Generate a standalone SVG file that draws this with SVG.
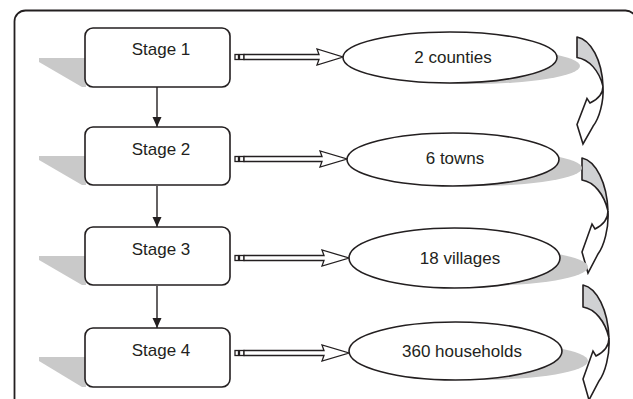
<svg xmlns="http://www.w3.org/2000/svg" width="633" height="399" viewBox="0 0 633 399">
<defs>
<style>
.frame{fill:#fff;stroke:#231f20;stroke-width:1.8}
.box{fill:#fff;stroke:#231f20;stroke-width:1.6}
.shadow{fill:#c9c9c9;stroke:none}
.lbl{font-family:"Liberation Sans",Arial,sans-serif;font-size:17px;fill:#231f20;text-anchor:middle}
.conn{stroke:#231f20;stroke-width:1.4;fill:none}
.hollow{fill:#fff;stroke:#231f20;stroke-width:1.3}
.back{fill:#d0d1d3;stroke:#231f20;stroke-width:1.6;stroke-linejoin:round}
.front{fill:#fff;stroke:#231f20;stroke-width:1.6;stroke-linejoin:miter}
</style>
<marker id="ah" markerWidth="10" markerHeight="10" refX="10" refY="5" orient="auto" markerUnits="userSpaceOnUse">
<path d="M0,0.5 L10,5 L0,9.5 Z" fill="#231f20"/>
</marker>
<g id="sq">
<rect x="0" y="-2.5" width="3.5" height="5" class="hollow"/>
<rect x="4.5" y="-2.5" width="4.5" height="5" class="hollow"/>
</g>
<g id="curl">
<path d="M0,0 C14,3 25,25 26,53 C22,36 12,24 0,22 Z" class="back"/>
<path d="M26,53 C26,61 21,67 13,71 L10,66 L0,94 L6,115 L16,96 C22,88 27,70 26,53 Z" class="front"/>
</g>
</defs>
<rect x="14.5" y="10.5" width="622" height="400" rx="11" class="frame"/>
<g id="connectors">
<line x1="157" y1="87" x2="157" y2="127" class="conn" marker-end="url(#ah)"/>
<line x1="157" y1="186" x2="157" y2="227" class="conn" marker-end="url(#ah)"/>
<line x1="157" y1="286" x2="157" y2="328" class="conn" marker-end="url(#ah)"/>
<use href="#sq" x="235" y="57"/>
<path d="M244,54.5 L319,54.5 L317,49 L343,57 L317,65 L319,59.5 L244,59.5 Z" class="hollow"/>
<use href="#sq" x="235" y="159"/>
<path d="M244,156.5 L322,156.5 L320,151 L347,159 L320,167 L322,161.5 L244,161.5 Z" class="hollow"/>
<use href="#sq" x="235" y="258"/>
<path d="M244,255.5 L324,255.5 L322,250 L349,258 L322,266 L324,260.5 L244,260.5 Z" class="hollow"/>
<use href="#sq" x="235" y="353"/>
<path d="M244,350.5 L324,350.5 L322,345 L349,353 L322,361 L324,355.5 L244,355.5 Z" class="hollow"/>
<use href="#curl" transform="translate(577,37) scale(1,0.93)"/>
<use href="#curl" transform="translate(582,158)"/>
<use href="#curl" transform="translate(583,285)"/>
</g>
<g id="stage1">
<polygon points="39,58 86,58 86,87 82,87 39,62" class="shadow"/>
<rect x="85" y="28" width="145" height="59" rx="8" class="box"/>
<text x="161" y="55" class="lbl">Stage 1</text>
</g>
<g id="stage2">
<polygon points="39,156 86,156 86,185 82,185 39,160" class="shadow"/>
<rect x="85" y="127" width="145" height="58" rx="8" class="box"/>
<text x="161" y="155" class="lbl">Stage 2</text>
</g>
<g id="stage3">
<polygon points="39,256 86,256 86,285 82,285 39,260" class="shadow"/>
<rect x="85" y="227" width="145" height="58" rx="8" class="box"/>
<text x="161" y="255" class="lbl">Stage 3</text>
</g>
<g id="stage4">
<polygon points="39,357 86,357 86,387 82,387 39,361" class="shadow"/>
<rect x="85" y="328" width="145" height="59" rx="8" class="box"/>
<text x="161" y="356" class="lbl">Stage 4</text>
</g>
<g id="counties">
<ellipse cx="470" cy="66" rx="110" ry="18" class="shadow"/>
<ellipse cx="450" cy="57.5" rx="107" ry="25.5" class="box"/>
<text x="453" y="63" class="lbl">2 counties</text>
</g>
<g id="towns">
<ellipse cx="473" cy="168" rx="109" ry="18" class="shadow"/>
<ellipse cx="453" cy="159.5" rx="106" ry="26.5" class="box"/>
<text x="455" y="164" class="lbl">6 towns</text>
</g>
<g id="villages">
<ellipse cx="477" cy="267" rx="111" ry="19" class="shadow"/>
<ellipse cx="454.5" cy="258" rx="105.5" ry="30" class="box"/>
<text x="460" y="264" class="lbl">18 villages</text>
</g>
<g id="households">
<ellipse cx="477" cy="361" rx="111" ry="19" class="shadow"/>
<ellipse cx="455.5" cy="351" rx="106.5" ry="29" class="box"/>
<text x="462" y="357" class="lbl">360 households</text>
</g>
</svg>
